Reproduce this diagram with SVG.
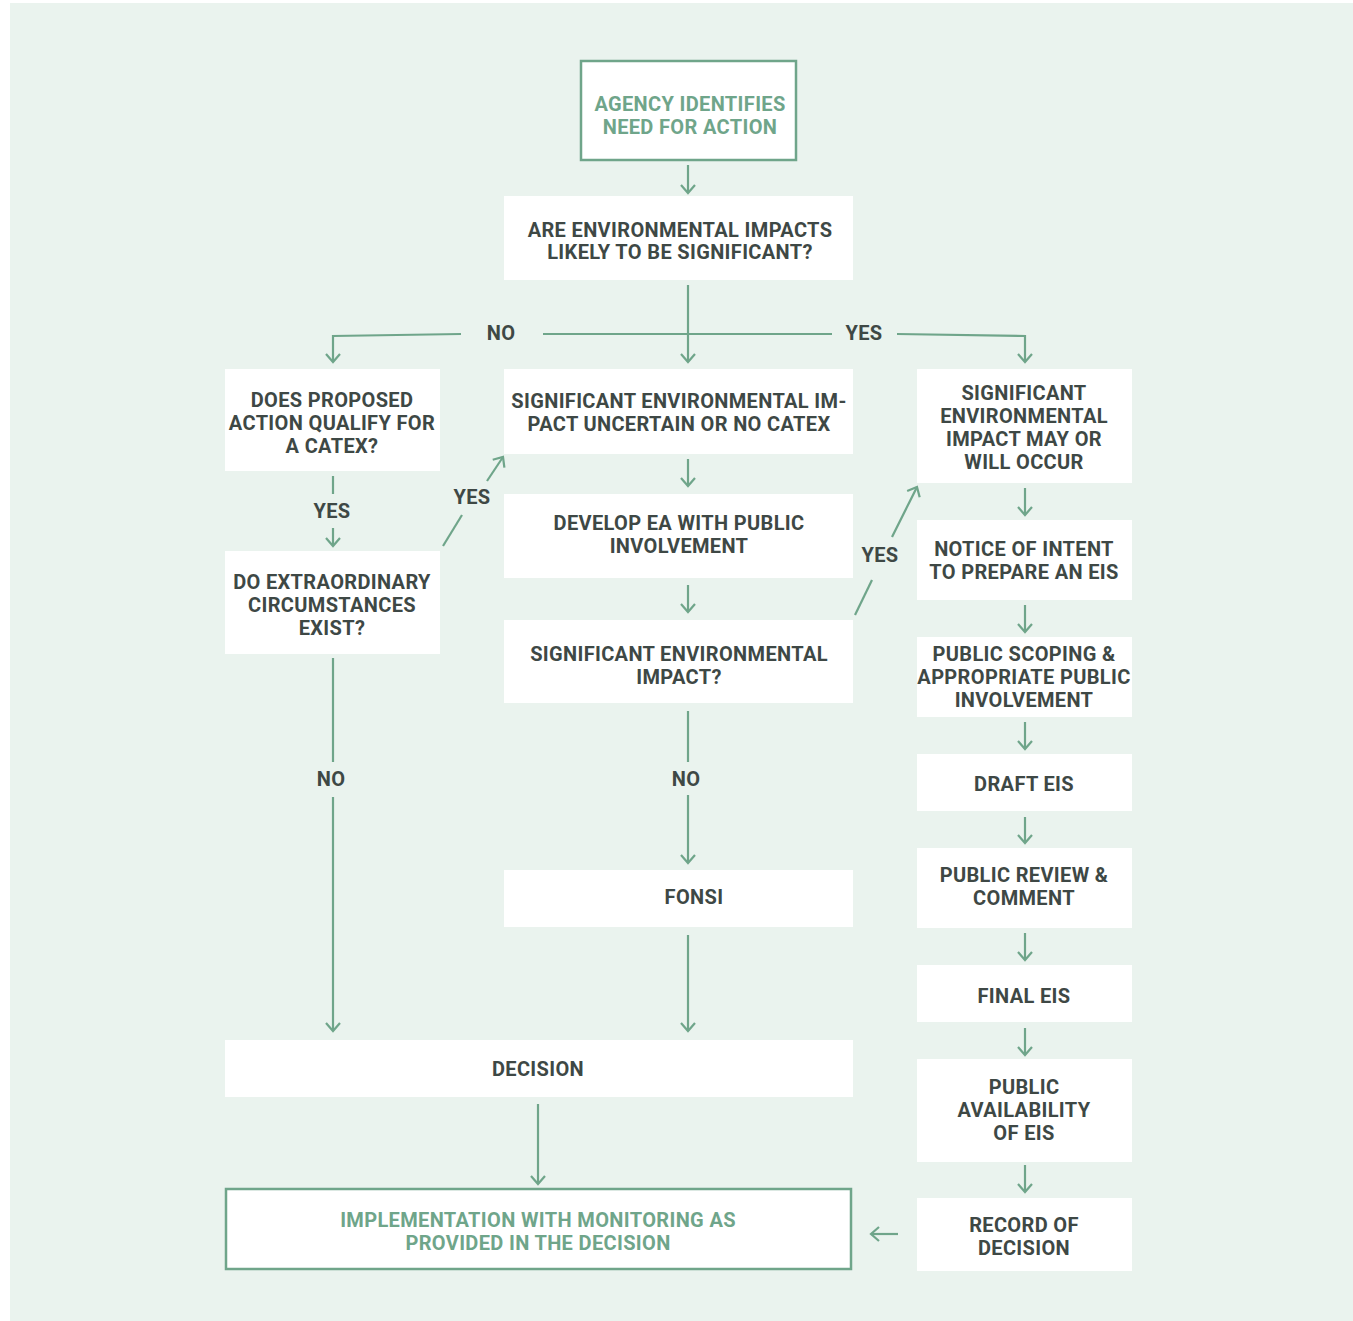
<svg xmlns="http://www.w3.org/2000/svg" width="1353" height="1321" viewBox="0 0 1353 1321">
<style>
.bg{fill:#EAF3EE}
.box{fill:#FFFFFF}
.obox{fill:#FFFFFF;stroke:#6FA58A;stroke-width:2.5}
.t{font-family:Roboto,"Liberation Sans",sans-serif;font-weight:700;font-size:20px;letter-spacing:0.35px;fill:#3E4845;text-anchor:middle}
.g{fill:#6FA58A}
.c{fill:none;stroke:#6FA58A;stroke-width:2.2}
</style>
<defs>
<marker id="ah" viewBox="-10 -8 12 16" refX="0" refY="0" markerWidth="12" markerHeight="16" markerUnits="userSpaceOnUse" orient="auto">
<path d="M-8,-7 L0,0 L-8,7" fill="none" stroke="#6FA58A" stroke-width="2.2"/>
</marker>
</defs>
<rect class="bg" x="10" y="3" width="1343" height="1318"/>
<g id="connectors">
<path class="c" d="M688,165 V193" marker-end="url(#ah)"/>
<path class="c" d="M688,285 V362" marker-end="url(#ah)"/>
<path class="c" d="M461,334 L333,336 V362" marker-end="url(#ah)"/>
<path class="c" d="M543,334 H832"/>
<path class="c" d="M897,334 L1025,336 V362" marker-end="url(#ah)"/>
<path class="c" d="M333,476 V494"/>
<path class="c" d="M333,528 V546" marker-end="url(#ah)"/>
<path class="c" d="M443,546 L462,515"/>
<path class="c" d="M487,481 L503,457" marker-end="url(#ah)"/>
<path class="c" d="M333,658 V762"/>
<path class="c" d="M333,797 V1031" marker-end="url(#ah)"/>
<path class="c" d="M688,459 V486" marker-end="url(#ah)"/>
<path class="c" d="M688,585 V612" marker-end="url(#ah)"/>
<path class="c" d="M688,711 V762"/>
<path class="c" d="M688,795 V863" marker-end="url(#ah)"/>
<path class="c" d="M688,935 V1031" marker-end="url(#ah)"/>
<path class="c" d="M538,1104 V1184" marker-end="url(#ah)"/>
<path class="c" d="M898,1234 H871" marker-end="url(#ah)"/>
<path class="c" d="M855,615 L872,580"/>
<path class="c" d="M892,537 L917,487" marker-end="url(#ah)"/>
<path class="c" d="M1025,488 V515" marker-end="url(#ah)"/>
<path class="c" d="M1025,605 V632" marker-end="url(#ah)"/>
<path class="c" d="M1025,722 V749" marker-end="url(#ah)"/>
<path class="c" d="M1025,817 V843" marker-end="url(#ah)"/>
<path class="c" d="M1025,933 V960" marker-end="url(#ah)"/>
<path class="c" d="M1025,1028 V1055" marker-end="url(#ah)"/>
<path class="c" d="M1025,1165 V1192" marker-end="url(#ah)"/>
<text class="t" x="501" y="340">NO</text>
<text class="t" x="864" y="340">YES</text>
<text class="t" x="332" y="518">YES</text>
<text class="t" x="472" y="504">YES</text>
<text class="t" x="331" y="786">NO</text>
<text class="t" x="686" y="786">NO</text>
<text class="t" x="880" y="562">YES</text>
</g>
<g id="n-agency">
<rect class="obox" x="581" y="61" width="215" height="99"/>
<text class="t g" x="690" y="111">AGENCY IDENTIFIES</text>
<text class="t g" x="690" y="134">NEED FOR ACTION</text>
</g>
<g id="n-likely">
<rect class="box" x="504" y="196" width="349" height="84"/>
<text class="t" x="680" y="237">ARE ENVIRONMENTAL IMPACTS</text>
<text class="t" x="680" y="259">LIKELY TO BE SIGNIFICANT?</text>
</g>
<g id="n-catex">
<rect class="box" x="225" y="369" width="215" height="102"/>
<text class="t" x="332" y="407">DOES PROPOSED</text>
<text class="t" x="332" y="430">ACTION QUALIFY FOR</text>
<text class="t" x="332" y="453">A CATEX?</text>
</g>
<g id="n-extra">
<rect class="box" x="225" y="551" width="215" height="103"/>
<text class="t" x="332" y="589">DO EXTRAORDINARY</text>
<text class="t" x="332" y="612">CIRCUMSTANCES</text>
<text class="t" x="332" y="635">EXIST?</text>
</g>
<g id="n-uncertain">
<rect class="box" x="504" y="369" width="349" height="85"/>
<text class="t" x="679" y="408">SIGNIFICANT ENVIRONMENTAL IM-</text>
<text class="t" x="679" y="431">PACT UNCERTAIN OR NO CATEX</text>
</g>
<g id="n-ea">
<rect class="box" x="504" y="494" width="349" height="84"/>
<text class="t" x="679" y="530">DEVELOP EA WITH PUBLIC</text>
<text class="t" x="679" y="553">INVOLVEMENT</text>
</g>
<g id="n-sigimpact">
<rect class="box" x="504" y="620" width="349" height="83"/>
<text class="t" x="679" y="661">SIGNIFICANT ENVIRONMENTAL</text>
<text class="t" x="679" y="684">IMPACT?</text>
</g>
<g id="n-fonsi">
<rect class="box" x="504" y="870" width="349" height="57"/>
<text class="t" x="694" y="904">FONSI</text>
</g>
<g id="n-decision">
<rect class="box" x="225" y="1040" width="628" height="57"/>
<text class="t" x="538" y="1076">DECISION</text>
</g>
<g id="n-implementation">
<rect class="obox" x="226" y="1189" width="625" height="80"/>
<text class="t g" x="538" y="1227">IMPLEMENTATION WITH MONITORING AS</text>
<text class="t g" x="538" y="1250">PROVIDED IN THE DECISION</text>
</g>
<g id="n-mayoccur">
<rect class="box" x="917" y="369" width="215" height="114"/>
<text class="t" x="1024" y="400">SIGNIFICANT</text>
<text class="t" x="1024" y="423">ENVIRONMENTAL</text>
<text class="t" x="1024" y="446">IMPACT MAY OR</text>
<text class="t" x="1024" y="469">WILL OCCUR</text>
</g>
<g id="n-noi">
<rect class="box" x="917" y="520" width="215" height="80"/>
<text class="t" x="1024" y="556">NOTICE OF INTENT</text>
<text class="t" x="1024" y="579">TO PREPARE AN EIS</text>
</g>
<g id="n-scoping">
<rect class="box" x="917" y="637" width="215" height="80"/>
<text class="t" x="1024" y="661">PUBLIC SCOPING &amp;</text>
<text class="t" x="1024" y="684">APPROPRIATE PUBLIC</text>
<text class="t" x="1024" y="707">INVOLVEMENT</text>
</g>
<g id="n-draft">
<rect class="box" x="917" y="754" width="215" height="57"/>
<text class="t" x="1024" y="791">DRAFT EIS</text>
</g>
<g id="n-review">
<rect class="box" x="917" y="848" width="215" height="80"/>
<text class="t" x="1024" y="882">PUBLIC REVIEW &amp;</text>
<text class="t" x="1024" y="905">COMMENT</text>
</g>
<g id="n-final">
<rect class="box" x="917" y="965" width="215" height="57"/>
<text class="t" x="1024" y="1003">FINAL EIS</text>
</g>
<g id="n-availability">
<rect class="box" x="917" y="1059" width="215" height="103"/>
<text class="t" x="1024" y="1094">PUBLIC</text>
<text class="t" x="1024" y="1117">AVAILABILITY</text>
<text class="t" x="1024" y="1140">OF EIS</text>
</g>
<g id="n-rod">
<rect class="box" x="917" y="1198" width="215" height="73"/>
<text class="t" x="1024" y="1232">RECORD OF</text>
<text class="t" x="1024" y="1255">DECISION</text>
</g>
</svg>
